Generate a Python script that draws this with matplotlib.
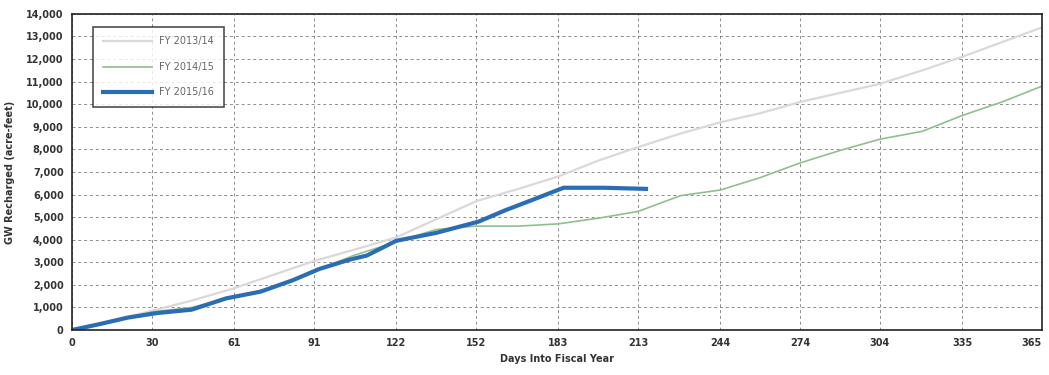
import numpy as np
import matplotlib.pyplot as plt

# values (acre-feet, cumulative)
days_1314 = [0, 15, 30, 45, 61, 76, 91, 106, 122, 137, 152, 168, 183, 198, 213, 229, 244, 259, 274, 289, 304, 320, 335, 350, 365]
fy_1314 = [0, 400, 850, 1300, 1850, 2450, 3050, 3550, 4100, 4900, 5700, 6250, 6800, 7500, 8100, 8700, 9200, 9600, 10100, 10500, 10900, 11500, 12100, 12750, 13400]

days_1415 = [0, 15, 30, 45, 61, 76, 91, 106, 122, 137, 152, 168, 183, 198, 213, 229, 244, 259, 274, 289, 304, 320, 335, 350, 365]
fy_1415 = [0, 350, 800, 1000, 1450, 1900, 2600, 3300, 3900, 4450, 4600, 4600, 4700, 4950, 5250, 5950, 6200, 6750, 7400, 7950, 8450, 8800, 9500, 10100, 10800]

days_1516 = [0, 10, 21, 32, 45, 58, 71, 83, 93, 104, 111, 122, 137, 153, 163, 173, 185, 200, 216]
fy_1516 = [0, 250, 550, 750, 900, 1400, 1700, 2200, 2700, 3100, 3300, 3950, 4300, 4800, 5300, 5750, 6300, 6300, 6250]

xticks = [0, 30, 61, 91, 122, 152, 183, 213, 244, 274, 304, 335, 365]
yticks = np.arange(0, 14001, 1000)

fig = plt.figure(figsize=(10.49, 3.75), dpi=100)
ax = fig.add_axes([0.0686, 0.12, 0.9247, 0.843])

ax.plot(days_1314, fy_1314, color='#ddd6da', linewidth=1.6, label='FY 2013/14')
ax.plot(days_1415, fy_1415, color='#8fbf8f', linewidth=1.2, label='FY 2014/15')
ax.plot(days_1516, fy_1516, color='#2a6db5', linewidth=3.0, label='FY 2015/16')

ax.set_xlim(0, 365)
ax.set_ylim(0, 14000)
ax.set_xticks(xticks)
ax.set_xticklabels([str(t) for t in xticks], fontsize=7, fontweight='bold', color='#333333')
# keep the last label inside the figure
ax.get_xticklabels()[-1].set_horizontalalignment('right')
ax.set_yticks(yticks)
ax.set_yticklabels(['{:,}'.format(v) for v in yticks], fontsize=7, fontweight='bold', color='#333333')
ax.tick_params(length=0, pad=6)

ax.grid(True, color='#666666', linestyle=(0, (3, 3)), linewidth=0.7, alpha=0.75)
ax.set_axisbelow(True)
for s in ax.spines.values():
    s.set_color('#222222')
    s.set_linewidth(1.2)

ax.set_xlabel('Days Into Fiscal Year', fontsize=7, fontweight='bold', color='#333333', labelpad=4)
ax.set_ylabel('GW Recharged (acre-feet)', fontsize=7, fontweight='bold', color='#333333', labelpad=8)

leg = ax.legend(loc='upper left', bbox_to_anchor=(0.017, 0.975), fontsize=7, frameon=True,
                fancybox=False, edgecolor='#222222', handlelength=5, labelspacing=1.6,
                borderpad=1.0)
leg.get_frame().set_linewidth(1.2)
for t in leg.get_texts():
    t.set_color('#666666')

fig.savefig('out.png', dpi=100)
